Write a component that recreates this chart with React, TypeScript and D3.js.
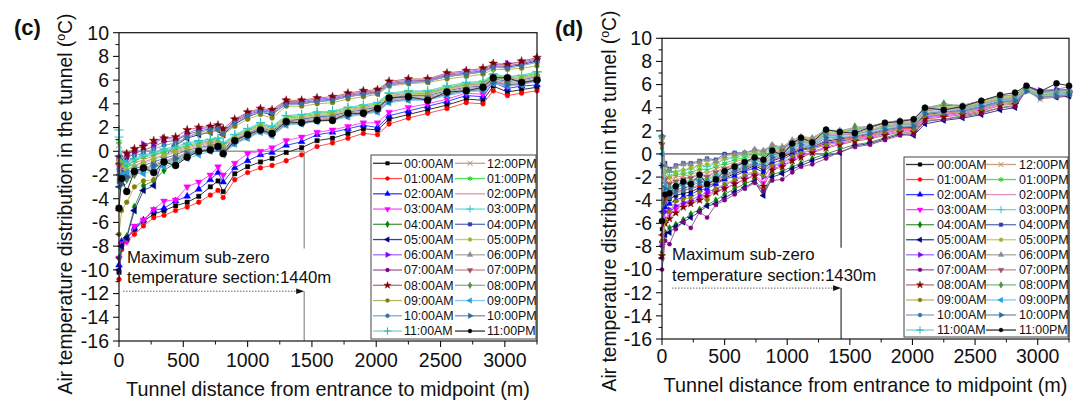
import React from 'react';
import * as d3 from 'd3';

// 시간대 라벨 / 색 / 마커
const HOURS = [
  '00:00AM', '01:00AM', '02:00AM', '03:00AM', '04:00AM', '05:00AM',
  '06:00AM', '07:00AM', '08:00AM', '09:00AM', '10:00AM', '11:00AM',
  '12:00PM', '01:00PM', '02:00PM', '03:00PM', '04:00PM', '05:00PM',
  '06:00PM', '07:00PM', '08:00PM', '09:00PM', '10:00PM', '11:00PM',
];
const MARK_COLORS = [
  '#000000', '#ff0000', '#0000ff', '#ff00ff', '#008000', '#000080',
  '#8000ff', '#800080', '#800000', '#808000', '#3d6ea8', '#28b4b4',
  '#c08a5a', '#22cc22', '#d070a0', '#30c8d0', '#3040a0', '#9ab828',
  '#8c8c8c', '#a05060', '#4f8f4f', '#20a0e0', '#2f6898', '#000000',
];
const LINE_COLORS = [
  '#333333', '#ff5050', '#4040ff', '#ff50ff', '#4a9a4a', '#40409a',
  '#a070ff', '#a060a0', '#c07070', '#b8b860', '#80a8d0', '#80d0d0',
  '#c8a080', '#50e050', '#e090b8', '#70dde0', '#6070b8', '#c0d070',
  '#a8a8a8', '#c09098', '#88b888', '#80c8f0', '#7090b8', '#333333',
];
const MARKERS = [
  'square', 'circle', 'triUp', 'triDown', 'diamond', 'triLeft',
  'triRight', 'circle', 'star', 'circle', 'circle', 'plus',
  'times', 'asterisk', 'none', 'plus', 'square', 'circle',
  'triUp', 'triDown', 'diamond', 'triLeft', 'triRight', 'circle',
];

const X_MAX = 3250;
const Y_MIN = -16;
const Y_MAX = 10;
const X_TICKS = [0, 500, 1000, 1500, 2000, 2500, 3000];
const Y_TICKS = [-16, -14, -12, -10, -8, -6, -4, -2, 0, 2, 4, 6, 8, 10];

// (c) 측점 거리 (m)
const X_C = [0, 20, 60, 120, 190, 270, 350, 440, 530, 620, 710, 770, 810, 900, 1000, 1100, 1190, 1300, 1420, 1540, 1660, 1780, 1900, 2010, 2100, 2250, 2400, 2550, 2700, 2830, 2910, 3020, 3130, 3250];

const C_00 = [-10.2, -7.9, -7.4, -6.6, -5.9, -5.3, -5.0, -4.6, -4.3, -3.8, -3.0, -2.5, -3.4, -1.9, -1.3, -0.9, -0.6, -0.1, 0.3, 0.9, 1.1, 1.5, 1.9, 1.8, 2.7, 3.1, 3.5, 3.9, 4.4, 4.3, 5.5, 5.0, 5.2, 5.4];
const C_01 = [-10.8, -8.3, -7.6, -7.0, -6.3, -5.6, -5.4, -5.0, -4.7, -4.3, -3.7, -3.3, -3.9, -2.4, -1.8, -1.4, -1.2, -0.8, -0.3, 0.4, 0.7, 1.1, 1.5, 1.4, 2.3, 2.8, 3.2, 3.6, 4.1, 4.0, 5.1, 4.7, 4.9, 5.1];
const C_02 = [-9.6, -7.6, -7.3, -6.5, -5.8, -5.0, -4.8, -4.2, -3.8, -3.2, -2.4, -1.8, -2.6, -1.4, -0.8, -0.3, -0.1, 0.5, 0.8, 1.4, 1.6, 1.9, 2.2, 2.0, 3.0, 3.4, 3.8, 4.2, 4.7, 4.6, 5.8, 5.3, 5.5, 5.6];
const C_03 = [-9.0, -7.8, -7.6, -6.3, -5.8, -4.9, -4.2, -4.1, -3.0, -2.6, -2.0, -1.3, -2.0, -1.0, -0.2, 0.0, 0.3, 0.9, 1.2, 1.6, 1.8, 2.1, 2.4, 2.4, 3.3, 3.7, 4.0, 4.4, 4.9, 4.8, 6.0, 5.5, 5.7, 5.9];
const C_04 = [-9.0, -8.0, -7.2, -4.7, -2.9, -2.5, -1.6, -1.0, -0.4, -0.1, 0.2, 0.4, 0.0, 0.9, 1.4, 1.9, 1.6, 2.5, 2.7, 2.9, 3.0, 3.4, 3.6, 3.7, 4.6, 4.8, 4.9, 5.3, 5.6, 5.7, 6.3, 6.0, 6.1, 6.4];
const C_05 = [-10.0, -8.0, -7.3, -5.0, -3.3, -2.9, -0.5, 0.5, 1.1, 1.4, 1.6, 1.8, 1.4, 2.3, 2.9, 3.3, 3.1, 4.0, 4.0, 4.2, 4.3, 4.6, 4.8, 4.9, 5.6, 5.8, 5.9, 6.3, 6.5, 6.7, 7.1, 7.1, 7.3, 7.6];
const C_06 = [-1.5, -0.8, -0.3, 0.1, 0.6, 0.7, 1.1, 1.0, 1.5, 1.9, 2.0, 2.1, 1.7, 2.6, 3.2, 3.5, 3.4, 4.2, 4.2, 4.4, 4.5, 4.8, 5.0, 5.1, 5.8, 6.0, 6.0, 6.5, 6.7, 6.9, 7.3, 7.4, 7.5, 7.8];
const C_07 = [-2.0, -1.5, -0.6, -0.2, 0.1, 0.4, 0.8, 0.9, 1.4, 1.7, 1.9, 2.0, 1.6, 2.5, 3.1, 3.4, 3.3, 4.1, 4.1, 4.3, 4.4, 4.7, 4.9, 5.0, 5.7, 5.9, 6.0, 6.4, 6.6, 6.8, 7.2, 7.2, 7.4, 7.7];
const C_08 = [-0.5, -1.0, -0.2, 0.2, 0.4, 0.9, 1.1, 1.2, 1.8, 2.0, 2.1, 2.2, 1.9, 2.7, 3.3, 3.6, 3.5, 4.3, 4.3, 4.5, 4.6, 4.9, 5.1, 5.2, 5.9, 6.1, 6.1, 6.6, 6.8, 7.0, 7.4, 7.3, 7.6, 7.9];
const C_09 = [-7.0, -5.0, -4.3, -3.0, -2.5, -2.4, -0.3, 0.6, 1.2, 1.5, 1.6, 1.8, 1.4, 2.1, 2.7, 3.1, 2.8, 3.8, 3.8, 4.0, 4.1, 4.4, 4.6, 4.8, 5.5, 5.7, 5.8, 6.1, 6.3, 6.5, 6.9, 6.9, 7.0, 7.2];
const C_10 = [-1.5, -1.8, -1.0, -0.4, -0.1, 0.2, 0.5, 0.7, 1.2, 1.6, 1.8, 1.9, 1.5, 2.4, 3.0, 3.3, 3.2, 3.9, 4.0, 4.2, 4.3, 4.6, 4.8, 4.9, 5.6, 5.8, 5.9, 6.3, 6.5, 6.7, 7.1, 7.0, 7.2, 7.5];
const C_11 = [1.8, -0.5, -1.0, -0.6, -0.3, -0.1, 0.2, 0.4, 0.7, 0.9, 1.0, 1.1, 0.7, 1.4, 1.9, 2.4, 2.1, 3.0, 3.1, 3.3, 3.4, 3.7, 3.9, 4.1, 4.9, 5.1, 5.1, 5.5, 5.8, 5.9, 6.5, 6.3, 6.4, 6.7];
const C_12 = [0.5, -1.2, -1.4, -1.0, -0.7, -0.4, -0.1, 0.1, 0.4, 0.6, 0.8, 0.9, 0.5, 1.2, 1.7, 2.2, 1.9, 2.8, 2.9, 3.1, 3.2, 3.5, 3.7, 3.9, 4.7, 4.9, 4.9, 5.3, 5.6, 5.7, 6.3, 6.1, 6.2, 6.5];
const C_13 = [0.8, -1.0, -1.2, -0.8, -0.5, -0.3, 0.0, 0.2, 0.5, 0.7, 0.9, 1.0, 0.6, 1.3, 1.8, 2.3, 2.0, 2.9, 3.0, 3.2, 3.3, 3.6, 3.8, 4.0, 4.8, 5.0, 5.0, 5.4, 5.7, 5.8, 6.4, 6.2, 6.3, 6.6];
const C_14 = [0.2, -1.5, -1.6, -1.2, -0.9, -0.6, -0.3, 0.0, 0.3, 0.5, 0.7, 0.8, 0.4, 1.1, 1.6, 2.1, 1.8, 2.7, 2.8, 3.0, 3.1, 3.4, 3.6, 3.8, 4.6, 4.8, 4.8, 5.2, 5.5, 5.6, 6.2, 6.0, 6.1, 6.4];
const C_15 = [1.2, -0.8, -1.1, -0.7, -0.4, -0.2, 0.1, 0.3, 0.6, 0.8, 1.0, 1.1, 0.7, 1.4, 1.9, 2.4, 2.1, 3.0, 3.1, 3.3, 3.4, 3.7, 3.9, 4.1, 4.9, 5.0, 5.1, 5.5, 5.8, 5.9, 6.5, 6.3, 6.4, 6.7];
const C_16 = [-0.5, -1.8, -1.9, -1.5, -1.2, -0.9, -0.6, -0.3, 0.1, 0.3, 0.5, 0.6, 0.2, 1.0, 1.5, 2.0, 1.7, 2.6, 2.7, 2.9, 3.0, 3.3, 3.5, 3.7, 4.5, 4.7, 4.7, 5.1, 5.4, 5.5, 6.1, 5.9, 6.0, 6.3];
const C_17 = [-0.8, -1.2, -1.6, -1.3, -1.0, -0.7, -0.4, -0.1, 0.2, 0.4, 0.6, 0.7, 0.3, 1.1, 1.6, 2.1, 1.8, 2.7, 2.8, 3.0, 3.1, 3.4, 3.6, 3.8, 4.6, 4.8, 4.8, 5.2, 5.5, 5.6, 6.2, 6.0, 6.1, 6.4];
const C_18 = [-1.0, -2.0, -2.1, -1.7, -1.4, -1.1, -0.8, -0.5, -0.1, 0.2, 0.4, 0.5, 0.1, 0.9, 1.4, 1.9, 1.6, 2.5, 2.6, 2.8, 2.9, 3.2, 3.4, 3.6, 4.4, 4.6, 4.6, 5.0, 5.3, 5.4, 6.0, 5.8, 5.9, 6.2];
const C_19 = [-1.2, -2.2, -2.3, -1.9, -1.6, -1.3, -1.0, -0.7, -0.3, 0.0, 0.3, 0.4, 0.0, 0.8, 1.3, 1.8, 1.5, 2.4, 2.5, 2.7, 2.8, 3.1, 3.3, 3.5, 4.3, 4.5, 4.5, 4.9, 5.2, 5.3, 5.9, 5.7, 5.8, 6.1];
const C_20 = [-2.0, -2.5, -2.4, -2.0, -1.7, -1.4, -1.1, -0.8, -0.4, -0.1, 0.2, 0.3, -0.1, 0.7, 1.2, 1.7, 1.4, 2.3, 2.4, 2.6, 2.7, 3.0, 3.2, 3.4, 4.2, 4.4, 4.4, 4.8, 5.1, 5.2, 5.8, 5.6, 5.7, 6.0];
const C_21 = [-3.0, -2.0, -1.8, -1.5, -1.9, -1.6, -1.3, -1.0, -0.6, -0.3, 0.0, 0.2, -0.3, 0.6, 1.1, 1.6, 1.3, 2.2, 2.3, 2.5, 2.6, 2.9, 3.1, 3.3, 4.1, 4.3, 4.3, 4.7, 5.0, 5.1, 5.7, 5.5, 5.6, 5.9];
const C_22 = [-2.5, -2.8, -2.2, -1.8, -1.5, -1.2, -0.9, -0.6, -0.2, 0.0, 0.2, 0.3, -0.2, 0.7, 1.2, 1.7, 1.4, 2.3, 2.4, 2.6, 2.7, 3.0, 3.2, 3.4, 4.2, 4.4, 4.4, 4.8, 5.1, 5.2, 5.8, 5.6, 5.7, 6.0];
const C_23 = [-4.8, -2.3, -3.4, -1.7, -1.4, -1.8, -0.9, -1.2, -0.5, 0.0, 0.1, 0.4, -0.2, 0.9, 1.4, 1.8, 1.5, 2.5, 2.4, 2.6, 2.6, 3.2, 3.2, 3.6, 4.5, 4.6, 4.3, 5.0, 5.1, 5.4, 6.2, 6.2, 5.8, 6.0];

const C_SERIES = [C_00, C_01, C_02, C_03, C_04, C_05, C_06, C_07, C_08, C_09, C_10, C_11, C_12, C_13, C_14, C_15, C_16, C_17, C_18, C_19, C_20, C_21, C_22, C_23];

// (d) 측점 거리 (m)
const X_D = [0, 25, 60, 110, 170, 230, 300, 360, 430, 500, 580, 660, 740, 810, 880, 960, 1040, 1110, 1200, 1310, 1420, 1540, 1660, 1780, 1900, 2010, 2100, 2250, 2400, 2550, 2700, 2820, 2910, 3020, 3150, 3250];

const D_00 = [-6.5, -4.2, -3.9, -3.6, -3.4, -3.3, -2.9, -2.8, -2.5, -2.1, -1.7, -1.4, -1.0, -1.4, -0.6, -0.3, 0.1, 0.4, 0.6, 1.1, 1.3, 1.5, 1.7, 2.1, 2.3, 2.3, 3.4, 3.6, 3.8, 4.1, 4.6, 4.7, 5.8, 5.4, 5.5, 5.5];
const D_01 = [-7.0, -3.9, -3.6, -3.3, -3.1, -3.0, -2.8, -2.6, -2.3, -1.9, -1.5, -1.2, -0.9, -1.2, -0.5, -0.2, 0.2, 0.5, 0.6, 1.0, 1.2, 1.4, 1.6, 2.0, 2.2, 2.2, 3.3, 3.5, 3.7, 4.0, 4.5, 4.6, 5.7, 5.3, 5.4, 5.4];
const D_02 = [-7.5, -4.6, -4.3, -4.0, -3.7, -3.5, -3.1, -3.0, -2.6, -2.2, -1.9, -1.5, -1.2, -1.6, -0.8, -0.5, 0.0, 0.3, 0.5, 0.9, 1.1, 1.3, 1.5, 1.9, 2.1, 2.1, 3.2, 3.4, 3.6, 3.9, 4.4, 4.5, 5.7, 5.2, 5.3, 5.4];
const D_03 = [-8.0, -5.6, -5.2, -4.8, -4.4, -4.2, -3.9, -3.5, -3.2, -3.0, -2.6, -2.2, -1.8, -2.5, -1.3, -1.0, -0.5, -0.2, 0.2, 0.6, 0.9, 1.2, 1.4, 1.7, 2.0, 2.0, 3.1, 3.3, 3.5, 3.8, 4.3, 4.4, 5.6, 5.2, 5.2, 5.3];
const D_04 = [-8.5, -6.8, -6.4, -6.1, -5.7, -5.2, -4.8, -4.4, -4.0, -3.5, -3.0, -2.6, -2.2, -3.3, -1.8, -1.5, -1.1, -0.8, -0.4, 0.0, 0.4, 0.8, 1.0, 1.4, 1.8, 1.8, 2.9, 3.0, 3.3, 3.6, 4.0, 4.2, 5.5, 5.0, 5.0, 5.1];
const D_05 = [-9.0, -7.0, -6.8, -6.3, -5.9, -5.5, -5.0, -4.5, -4.3, -3.8, -3.3, -2.9, -2.4, -3.6, -2.0, -1.7, -1.3, -1.0, -0.6, -0.2, 0.1, 0.7, 0.9, 1.3, 1.7, 1.6, 2.6, 2.9, 3.1, 3.4, 3.8, 4.0, 5.6, 5.0, 4.9, 5.0];
const D_06 = [-7.8, -5.0, -4.8, -4.5, -4.2, -4.0, -3.6, -3.3, -3.0, -2.7, -2.3, -1.9, -1.6, -2.0, -1.1, -0.8, -0.3, 0.0, 0.4, 0.8, 1.0, 1.3, 1.5, 1.8, 2.1, 2.1, 3.2, 3.4, 3.7, 4.0, 4.5, 4.6, 5.9, 5.5, 5.6, 5.8];
const D_07 = [-10.0, -7.5, -7.8, -6.5, -5.9, -6.4, -5.0, -5.5, -4.4, -4.0, -3.5, -3.0, -2.5, -3.2, -2.3, -2.2, -1.6, -1.1, -0.9, -0.4, 0.2, 0.6, 0.8, 1.2, 1.6, 1.7, 2.8, 3.0, 3.2, 3.5, 4.0, 4.1, 5.5, 4.8, 4.9, 5.1];
const D_08 = [-8.8, -6.0, -5.6, -5.1, -4.6, -4.3, -4.0, -3.7, -3.3, -3.0, -2.6, -2.2, -1.9, -2.8, -1.4, -1.1, -0.6, -0.3, 0.1, 0.5, 0.8, 1.1, 1.3, 1.6, 1.9, 1.9, 3.0, 3.2, 3.4, 3.7, 4.2, 4.3, 5.6, 5.1, 5.1, 5.2];
const D_09 = [-7.5, -5.8, -5.0, -4.1, -3.9, -3.8, -3.3, -4.0, -3.0, -2.6, -2.2, -1.8, -1.5, -1.9, -1.0, -0.7, -0.2, 0.1, 0.4, 0.8, 1.0, 1.3, 1.5, 1.9, 2.1, 2.1, 3.3, 3.5, 3.6, 3.9, 4.4, 4.5, 5.7, 5.2, 5.2, 5.3];
const D_10 = [-5.0, -4.2, -3.8, -3.4, -3.2, -3.0, -2.6, -2.8, -2.4, -2.0, -1.6, -1.3, -0.9, -1.1, -0.5, -0.2, 0.3, 0.6, 0.7, 1.2, 1.4, 1.5, 1.8, 2.1, 2.4, 2.4, 3.5, 3.6, 3.9, 4.2, 4.7, 4.8, 5.8, 5.3, 5.5, 5.5];
const D_11 = [1.5, -2.5, -3.0, -2.8, -2.6, -2.5, -2.2, -2.3, -1.9, -1.5, -1.1, -0.8, -0.5, -0.7, 0.0, 0.2, 0.7, 1.1, 1.0, 1.7, 1.7, 1.7, 2.0, 2.4, 2.6, 2.7, 3.8, 3.9, 4.0, 4.4, 4.9, 5.0, 5.7, 5.3, 5.4, 5.5];
const D_12 = [1.2, -1.8, -2.2, -2.0, -1.9, -1.8, -1.5, -1.7, -1.3, -1.0, -0.7, -0.4, -0.2, -0.4, 0.3, 0.4, 0.9, 1.2, 1.1, 1.8, 1.8, 1.8, 2.1, 2.5, 2.7, 2.8, 3.9, 4.0, 4.0, 4.4, 4.8, 4.9, 5.5, 4.7, 5.0, 5.1];
const D_13 = [1.4, -1.5, -1.9, -1.8, -1.7, -1.6, -1.3, -1.4, -1.1, -0.8, -0.5, -0.3, 0.0, -0.2, 0.4, 0.5, 1.0, 1.3, 1.2, 1.9, 1.9, 2.0, 2.3, 2.6, 2.8, 2.9, 4.0, 4.2, 4.1, 4.5, 4.9, 5.0, 5.6, 5.1, 5.2, 5.3];
const D_14 = [1.0, -2.0, -2.4, -2.2, -2.1, -2.0, -1.7, -1.9, -1.5, -1.2, -0.9, -0.6, -0.3, -0.5, 0.2, 0.3, 0.8, 1.1, 1.0, 1.7, 1.7, 1.7, 2.0, 2.4, 2.6, 2.7, 3.8, 3.9, 3.9, 4.3, 4.7, 4.8, 5.5, 4.9, 5.0, 5.2];
const D_15 = [1.6, -1.2, -1.6, -1.5, -1.4, -1.3, -1.0, -1.1, -0.8, -0.5, -0.3, -0.1, 0.1, 0.0, 0.5, 0.6, 1.1, 1.4, 1.3, 2.0, 2.0, 2.0, 2.3, 2.6, 2.8, 2.9, 4.0, 4.1, 4.1, 4.5, 4.9, 5.0, 5.7, 5.2, 5.3, 5.4];
const D_16 = [1.5, -0.8, -1.3, -1.0, -0.8, -0.8, -0.6, -0.4, -0.5, 0.0, 0.1, 0.1, 0.3, 0.2, 0.7, 0.5, 1.0, 1.4, 1.3, 2.0, 2.0, 2.1, 2.4, 2.7, 2.9, 3.0, 4.0, 4.2, 4.2, 4.6, 5.0, 5.1, 5.8, 5.4, 5.5, 5.6];
const D_17 = [1.3, -1.5, -2.0, -1.6, -1.4, -1.2, -1.0, -0.9, -0.8, -0.4, -0.2, 0.0, 0.2, 0.1, 0.6, 0.6, 1.1, 1.4, 1.3, 2.0, 1.9, 2.2, 2.3, 2.6, 2.8, 2.9, 4.0, 4.1, 4.1, 4.5, 4.9, 5.0, 5.7, 5.2, 5.3, 5.4];
const D_18 = [1.5, -1.0, -1.4, -1.1, -0.9, -0.9, -0.7, -0.5, -0.6, -0.2, 0.0, 0.1, 0.4, 0.3, 0.8, 0.6, 1.2, 1.5, 1.4, 2.1, 2.0, 2.3, 2.4, 2.7, 2.9, 3.0, 4.0, 4.3, 4.2, 4.6, 5.0, 5.1, 5.8, 5.3, 5.4, 5.5];
const D_19 = [0.8, -2.2, -2.6, -2.4, -2.2, -2.1, -1.8, -2.0, -1.6, -1.3, -1.0, -0.7, -0.4, -0.6, 0.1, 0.2, 0.7, 1.0, 0.9, 1.6, 1.6, 1.7, 2.0, 2.3, 2.5, 2.6, 3.7, 3.9, 3.9, 4.3, 4.7, 4.8, 5.5, 5.0, 5.1, 5.2];
const D_20 = [0.5, -2.5, -2.9, -2.6, -2.4, -2.3, -2.0, -2.2, -1.8, -1.4, -1.1, -0.8, -0.5, -0.8, 0.0, 0.1, 0.6, 1.0, 0.9, 1.6, 1.5, 2.4, 2.0, 2.3, 2.5, 2.6, 3.7, 4.4, 4.0, 4.3, 4.7, 4.8, 5.6, 5.1, 5.2, 5.3];
const D_21 = [0.0, -2.8, -3.2, -2.9, -2.7, -2.6, -2.3, -2.5, -2.0, -1.6, -1.3, -1.0, -0.7, -0.9, -0.2, 0.0, 0.5, 0.9, 0.8, 1.5, 1.5, 1.6, 1.9, 2.2, 2.4, 2.5, 3.6, 3.8, 3.8, 4.2, 4.6, 4.7, 5.5, 5.0, 5.1, 5.2];
const D_22 = [-1.0, -3.0, -3.3, -3.1, -2.9, -2.8, -2.4, -2.6, -2.2, -1.8, -1.4, -1.1, -0.8, -1.0, -0.3, -0.1, 0.4, 0.8, 0.7, 1.4, 1.4, 1.5, 1.8, 2.1, 2.3, 2.4, 3.5, 3.7, 3.7, 4.1, 4.5, 4.6, 5.4, 4.9, 5.0, 5.1];
const D_23 = [-5.8, -3.5, -3.4, -2.8, -2.4, -2.6, -1.8, -2.6, -2.2, -1.5, -1.1, -0.7, -0.3, -0.5, 0.3, -0.1, 0.9, 1.4, 1.0, 2.1, 1.9, 1.8, 2.3, 2.7, 2.8, 3.0, 4.0, 3.8, 4.1, 4.6, 5.1, 5.3, 5.9, 5.4, 6.1, 5.9];

const D_SERIES = [D_00, D_01, D_02, D_03, D_04, D_05, D_06, D_07, D_08, D_09, D_10, D_11, D_12, D_13, D_14, D_15, D_16, D_17, D_18, D_19, D_20, D_21, D_22, D_23];

const FONT = '"Liberation Sans", Arial, Helvetica, sans-serif';

type Mark = { d: string; rot: number; stroke: boolean } | null;

// 마커 모양 만들기 (s = 대략 지름)
function markPath(kind: string, s: number): Mark {
  const a = s * s;
  switch (kind) {
    case 'square': return { d: d3.symbol(d3.symbolSquare, a * 0.8)()!, rot: 0, stroke: false };
    case 'circle': return { d: d3.symbol(d3.symbolCircle, a * 0.75)()!, rot: 0, stroke: false };
    case 'triUp': return { d: d3.symbol(d3.symbolTriangle, a * 0.85)()!, rot: 0, stroke: false };
    case 'triDown': return { d: d3.symbol(d3.symbolTriangle, a * 0.85)()!, rot: 180, stroke: false };
    case 'triLeft': return { d: d3.symbol(d3.symbolTriangle, a * 0.85)()!, rot: -90, stroke: false };
    case 'triRight': return { d: d3.symbol(d3.symbolTriangle, a * 0.85)()!, rot: 90, stroke: false };
    case 'diamond': return { d: d3.symbol(d3.symbolDiamond, a * 0.8)()!, rot: 0, stroke: false };
    case 'star': return { d: d3.symbol(d3.symbolStar, a * 1.0)()!, rot: 0, stroke: false };
    case 'plus': return { d: d3.symbol(d3.symbolPlus, a * 1.2)()!, rot: 0, stroke: true };
    case 'times': return { d: d3.symbol(d3.symbolTimes, a * 1.2)()!, rot: 0, stroke: true };
    case 'asterisk': return { d: d3.symbol(d3.symbolAsterisk, a * 1.2)()!, rot: 0, stroke: true };
    default: return null;
  }
}

function Marker({ kind, x, y, s, color }: { kind: string; x: number; y: number; s: number; color: string }) {
  const m = markPath(kind, s);
  if (!m) return null;
  return (
    <path
      d={m.d}
      transform={`translate(${x},${y})${m.rot ? ` rotate(${m.rot})` : ''}`}
      fill={m.stroke ? 'none' : color}
      stroke={color}
      strokeWidth={m.stroke ? 1 : 0.4}
    />
  );
}

type LegendCfg = { x: number; y: number; w: number; h: number; row0: number; step: number; l1: number[]; t1: number; l2: number[]; t2: number };

type PanelCfg = {
  tag: string; tagX: number; tagY: number;
  left: number; right: number; top: number; bottom: number;
  stations: number[]; series: number[][];
  section: number; arrowY: number; gapTop: number; arrowStart: number;
  vColor: string; zeroColor: string; zeroWidth: number;
  markSize: number; legend: LegendCfg;
  note: { x: number; y1: number; y2: number }; noteText: string;
  yTitle: { x: number; y: number }; xTitleY: number; tickBase: number;
};

const PANEL_C: PanelCfg = {
  tag: '(c)', tagX: 14, tagY: 35,
  left: 119, right: 537, top: 32.7, bottom: 341,
  stations: X_C, series: C_SERIES,
  section: 1440, arrowY: -11.8, gapTop: -8.2, arrowStart: 4,
  vColor: '#8c8c8c', zeroColor: '#9a9a9a', zeroWidth: 1.5,
  markSize: 4.9,
  legend: { x: 371, y: 155, w: 165, h: 184, row0: 163.3, step: 15.25, l1: [373, 402], t1: 404, l2: [455, 485], t2: 487 },
  note: { x: 127, y1: 263, y2: 283 }, noteText: 'temperature section:1440m',
  yTitle: { x: 72, y: 204 }, xTitleY: 396, tickBase: 26,
};

const PANEL_D: PanelCfg = {
  tag: '(d)', tagX: 555, tagY: 36,
  left: 662, right: 1069, top: 38.3, bottom: 339,
  stations: X_D, series: D_SERIES,
  section: 1430, arrowY: -11.6, gapTop: -8.1, arrowStart: 10,
  vColor: '#333333', zeroColor: '#222222', zeroWidth: 1,
  markSize: 4.3,
  legend: { x: 904, y: 157, w: 164, h: 180, row0: 164.5, step: 15.05, l1: [906, 934], t1: 937, l2: [986, 1016], t2: 1019 },
  note: { x: 672, y1: 260, y2: 280.7 }, noteText: 'temperature section:1430m',
  yTitle: { x: 616, y: 201 }, xTitleY: 392, tickBase: 24,
};

function Panel({ cfg }: { cfg: PanelCfg }) {
  const x = d3.scaleLinear().domain([0, X_MAX]).range([cfg.left, cfg.right]);
  const y = d3.scaleLinear().domain([Y_MIN, Y_MAX]).range([cfg.bottom, cfg.top]);
  const line = d3.line<[number, number]>().x(d => x(d[0])).y(d => y(d[1]));
  const xMinor = d3.range(250, X_MAX + 1, 500);
  const yMinor = d3.range(Y_MIN + 1, Y_MAX, 2);
  const sx = x(cfg.section);
  const ay = y(cfg.arrowY);
  const lg = cfg.legend;

  return (
    <g>
      {/* 0도 기준선 + 구간 표시 */}
      <line x1={x(0)} x2={sx} y1={y(0)} y2={y(0)} stroke={cfg.zeroColor} strokeWidth={cfg.zeroWidth} />
      <line x1={sx} x2={sx} y1={y(0)} y2={y(cfg.gapTop)} stroke={cfg.vColor} strokeWidth={1.2} />
      <line x1={sx} x2={sx} y1={ay} y2={y(Y_MIN)} stroke={cfg.vColor} strokeWidth={1.2} />
      <line x1={cfg.left + cfg.arrowStart} x2={sx - 7} y1={ay} y2={ay} stroke="#666" strokeWidth={1} strokeDasharray="1.5 1.5" />
      <path d={`M${sx},${ay} l-8,-2.8 l0,5.6 z`} fill="#111" />

      {/* 시리즈 */}
      {cfg.series.map((vals, si) => {
        const pts = cfg.stations
          .map((m, k) => [m, vals[k]] as [number, number])
          .filter(p => p[1] !== undefined);
        const s = si === 23 ? cfg.markSize * 1.45 : cfg.markSize;
        return (
          <g key={si}>
            <path d={line(pts) ?? ''} fill="none" stroke={LINE_COLORS[si]} strokeWidth={1} />
            {pts.map((p, k) => (
              <Marker key={k} kind={MARKERS[si]} x={x(p[0])} y={y(p[1])} s={s} color={MARK_COLORS[si]} />
            ))}
          </g>
        );
      })}

      {/* 주석 */}
      <text x={cfg.note.x} y={cfg.note.y1} fontFamily={FONT} fontSize={16.8} fill="#111">Maximum sub-zero</text>
      <text x={cfg.note.x} y={cfg.note.y2} fontFamily={FONT} fontSize={16.8} fill="#111">{cfg.noteText}</text>

      {/* 테두리 */}
      <rect x={cfg.left} y={cfg.top} width={cfg.right - cfg.left} height={cfg.bottom - cfg.top} fill="none" stroke="#111" strokeWidth={1.2} />

      {/* X 축 */}
      {X_TICKS.map(t => (
        <g key={`xt${t}`}>
          <line x1={x(t)} x2={x(t)} y1={cfg.bottom} y2={cfg.bottom + 6} stroke="#111" strokeWidth={1.1} />
          <text x={x(t)} y={cfg.bottom + cfg.tickBase} textAnchor="middle" fontFamily={FONT} fontSize={19.5} fill="#111">{t}</text>
        </g>
      ))}
      {xMinor.map(t => (
        <line key={`xm${t}`} x1={x(t)} x2={x(t)} y1={cfg.bottom} y2={cfg.bottom + 3.5} stroke="#111" strokeWidth={1} />
      ))}

      {/* Y 축 */}
      {Y_TICKS.map(t => (
        <g key={`yt${t}`}>
          <line x1={cfg.left - 6} x2={cfg.left} y1={y(t)} y2={y(t)} stroke="#111" strokeWidth={1.1} />
          <text x={cfg.left - 10} y={y(t) + 6.8} textAnchor="end" fontFamily={FONT} fontSize={19.5} fill="#111">{t}</text>
        </g>
      ))}
      {yMinor.map(t => (
        <line key={`ym${t}`} x1={cfg.left - 3.5} x2={cfg.left} y1={y(t)} y2={y(t)} stroke="#111" strokeWidth={1} />
      ))}

      {/* 축 제목 */}
      <text
        x={(cfg.left + cfg.right) / 2} y={cfg.xTitleY}
        textAnchor="middle" fontFamily={FONT} fontSize={19.8} fill="#111"
      >
        Tunnel distance from entrance to midpoint (m)
      </text>
      <text
        transform={`translate(${cfg.yTitle.x},${cfg.yTitle.y}) rotate(-90)`}
        textAnchor="middle" fontFamily={FONT} fontSize={19.3} fill="#111"
      >
        Air temperature distribution in the tunnel (<tspan fontSize={12.5} dy={-7}>o</tspan><tspan dy={7}>C)</tspan>
      </text>
      <text x={cfg.tagX} y={cfg.tagY} fontFamily={FONT} fontWeight="bold" fontSize={22} fill="#111">{cfg.tag}</text>

      {/* 범례 */}
      <rect x={lg.x} y={lg.y} width={lg.w} height={lg.h} fill="#fff" stroke="#444" strokeWidth={1} />
      {HOURS.map((h, i) => {
        const col = i < 12 ? 0 : 1;
        const ry = lg.row0 + (i % 12) * lg.step;
        const seg = col === 0 ? lg.l1 : lg.l2;
        const tx = col === 0 ? lg.t1 : lg.t2;
        return (
          <g key={h}>
            <line x1={seg[0]} x2={seg[1]} y1={ry} y2={ry} stroke={LINE_COLORS[i]} strokeWidth={1.3} />
            <Marker kind={MARKERS[i]} x={(seg[0] + seg[1]) / 2} y={ry} s={4} color={MARK_COLORS[i]} />
            <text x={tx} y={ry + 4.4} fontFamily={FONT} fontSize={12.4} fill="#111">{h}</text>
          </g>
        );
      })}
    </g>
  );
}

export default function App() {
  return (
    <svg
      width={1080}
      height={406}
      viewBox="0 0 1080 406"
      style={{ position: 'absolute', left: 0, top: 0, background: '#fff' }}
    >
      <rect width={1080} height={406} fill="#fff" />
      <Panel cfg={PANEL_C} />
      <Panel cfg={PANEL_D} />
    </svg>
  );
}
